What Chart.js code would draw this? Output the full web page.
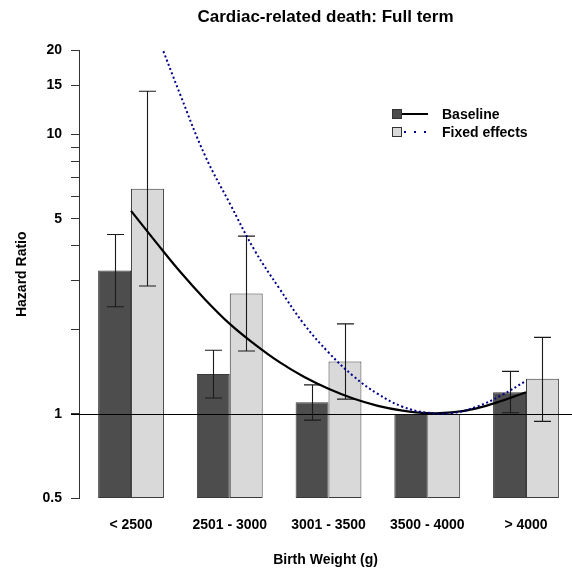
<!DOCTYPE html>
<html>
<head>
<meta charset="utf-8">
<title>Cardiac-related death: Full term</title>
<script src="https://cdn.jsdelivr.net/npm/chart.js@4.4.1/dist/chart.umd.min.js"></script>
<style>
  html, body { margin: 0; padding: 0; background: #fff; overflow: hidden; }
</style>
</head>
<body>
<canvas id="myChart" width="572" height="581"></canvas>
<script>
// birth weight groups and hazard ratios
const categories = ["< 2500", "2501 - 3000", "3001 - 3500", "3500 - 4000", "> 4000"];

const baseline = [3.26, 1.39, 1.10, 1.0, 1.196];
const baselineLow = [2.42, 1.14, 0.95, null, 1.01];
const baselineHigh = [4.39, 1.69, 1.27, null, 1.42];

const fixedEffects = [6.40, 2.70, 1.54, 1.0, 1.335];
const fixedLow = [2.87, 1.68, 1.13, null, 0.94];
const fixedHigh = [14.3, 4.33, 2.10, null, 1.88];

// spline fits, positions along the category axis
const curvePos = [0, 0.25, 0.5, 0.75, 1, 1.25, 1.5, 1.75, 2, 2.25, 2.5, 2.75, 3, 3.25, 3.5, 3.75, 4];
const baselineCurve = [5.33, 4.13, 3.22, 2.57, 2.10, 1.778, 1.535, 1.358, 1.230, 1.135, 1.069, 1.028, 1.007, 1.012, 1.047, 1.112, 1.196];
const fixedCurve = [40.5, 23.5, 13.85, 8.4, 5.67, 3.86, 2.82, 2.10, 1.66, 1.367, 1.179, 1.061, 1.01, 1.007, 1.061, 1.165, 1.313];

const yTicks = [0.5, 1, 2, 3, 4, 5, 6, 7, 8, 9, 10, 15, 20];
const yLabels = [0.5, 1, 5, 10, 15, 20];

const FONT = '"Liberation Sans", Arial, Helvetica, sans-serif';
const DARK = "#4d4d4d";
const LIGHT = "#d9d9d9";
const NAVY = "#00008b";

Chart.defaults.font.family = FONT;
Chart.defaults.font.size = 14;
Chart.defaults.font.weight = "bold";
Chart.defaults.color = "#000";

function toPoints(xs, ys) {
  return xs.map((x, i) => ({ x: x, y: ys[i] }));
}

// error bars go right after their bars, the y = 1 line after the last bar set
const errorBars = {
  id: "errorBars",
  afterDatasetDraw(chart, args) {
    const ds = chart.data.datasets[args.index];
    if (!ds.errLow) return;
    const y = chart.scales.y;
    const ctx = chart.ctx;
    ctx.save();
    ctx.strokeStyle = "#1a1a1a";
    ctx.lineWidth = 1.1;
    args.meta.data.forEach((bar, i) => {
      if (ds.errLow[i] == null) return;
      const top = y.getPixelForValue(ds.errHigh[i]);
      const bottom = y.getPixelForValue(ds.errLow[i]);
      const cx = Math.round(bar.x) + 0.5;
      ctx.beginPath();
      ctx.moveTo(cx, top);
      ctx.lineTo(cx, bottom);
      ctx.moveTo(cx - 8.5, top);
      ctx.lineTo(cx + 8.5, top);
      ctx.moveTo(cx - 8.5, bottom);
      ctx.lineTo(cx + 8.5, bottom);
      ctx.stroke();
    });
    if (ds.refLine) {
      const area = chart.chartArea;
      const y1 = Math.round(y.getPixelForValue(1)) + 0.5;
      ctx.strokeStyle = "#000";
      ctx.lineWidth = 1;
      ctx.beginPath();
      ctx.moveTo(area.left - 8, y1);
      ctx.lineTo(area.right, y1);
      ctx.stroke();
    }
    ctx.restore();
  },
};

// main title over the plot region plus the legend box
const plotText = {
  id: "plotText",
  afterDraw(chart) {
    const ctx = chart.ctx;
    const area = chart.chartArea;
    ctx.save();
    ctx.fillStyle = "#000";
    ctx.textBaseline = "middle";
    ctx.textAlign = "center";
    ctx.font = "bold 17px " + FONT;
    ctx.fillText("Cardiac-related death: Full term", (area.left + area.right) / 2, 17);

    const items = [
      { label: "Baseline", fill: DARK, line: "#000", dash: [], y: 114 },
      { label: "Fixed effects", fill: LIGHT, line: NAVY, dash: [2, 8], y: 132 },
    ];
    ctx.textAlign = "left";
    ctx.font = "bold 14px " + FONT;
    items.forEach((it) => {
      ctx.fillStyle = it.fill;
      ctx.fillRect(392, it.y - 4.5, 10, 9);
      ctx.strokeStyle = "#333";
      ctx.lineWidth = 1;
      ctx.strokeRect(392.5, it.y - 4.5, 9, 9);
      ctx.strokeStyle = it.line;
      ctx.lineWidth = 2;
      ctx.setLineDash(it.dash);
      ctx.beginPath();
      ctx.moveTo(it.dash.length ? 404 : 402, it.y);
      ctx.lineTo(428, it.y);
      ctx.stroke();
      ctx.setLineDash([]);
      ctx.fillStyle = "#000";
      ctx.fillText(it.label, 442, it.y + 1);
    });
    ctx.restore();
  },
};

function createChart() {
  const ctx = document.getElementById("myChart");

  const data = {
    datasets: [
      {
        type: "bar",
        label: "Baseline",
        data: toPoints(categories.map((c, i) => i), baseline),
        backgroundColor: DARK,
        borderColor: "#3a3a3a",
        borderWidth: 1,
        borderSkipped: false,
        categoryPercentage: 2 / 3,
        barPercentage: 1,
        errLow: baselineLow,
        errHigh: baselineHigh,
        refLine: true,
        order: 3,
      },
      {
        type: "bar",
        label: "Fixed effects",
        data: toPoints(categories.map((c, i) => i), fixedEffects),
        backgroundColor: LIGHT,
        borderColor: "#3a3a3a",
        borderWidth: 1,
        borderSkipped: false,
        categoryPercentage: 2 / 3,
        barPercentage: 1,
        errLow: fixedLow,
        errHigh: fixedHigh,
        order: 4,
      },
      {
        type: "line",
        label: "Baseline fit",
        data: toPoints(curvePos, baselineCurve),
        borderColor: "#000",
        borderWidth: 2.2,
        pointRadius: 0,
        fill: false,
        tension: 0.4,
        clip: 0,
        order: 2,
      },
      {
        type: "line",
        label: "Fixed effects fit",
        data: toPoints(curvePos, fixedCurve),
        borderColor: NAVY,
        borderWidth: 2,
        borderDash: [2, 2.6],
        pointRadius: 0,
        fill: false,
        tension: 0.4,
        clip: 0,
        order: 1,
      },
    ],
  };

  new Chart(ctx, {
    type: "bar",
    data,
    plugins: [errorBars, plotText],
    options: {
      responsive: false,
      animation: false,
      layout: { padding: { top: 50.5, left: 0, right: 0, bottom: 0 } },
      plugins: {
        legend: { display: false },
        title: { display: false },
        tooltip: { enabled: false },
      },
      scales: {
        x: {
          type: "linear",
          bounds: "data",
          offset: false,
          min: -0.527,
          max: 4.466,
          afterBuildTicks: (scale) => {
            scale.ticks = categories.map((c, i) => ({ value: i }));
          },
          afterFit: (scale) => {
            scale.height = 83;
          },
          border: { display: false },
          grid: { display: false, drawTicks: false, offset: false },
          ticks: {
            autoSkip: false,
            maxRotation: 0,
            padding: 18.5,
            callback: (v) => categories[v],
          },
          title: {
            display: true,
            text: "Birth Weight (g)",
            padding: { top: 0, bottom: 12.5 },
          },
        },
        y: {
          type: "logarithmic",
          min: 0.5,
          max: 20,
          afterBuildTicks: (scale) => {
            scale.ticks = yTicks.map((v) => ({ value: v }));
          },
          afterFit: (scale) => {
            scale.width = 79;
          },
          border: { display: true, color: "#333", width: 1 },
          grid: {
            drawOnChartArea: false,
            drawTicks: true,
            tickLength: 8,
            color: "#333",
          },
          ticks: {
            autoSkip: false,
            padding: 9,
            callback: (v) => (yLabels.includes(v) ? String(v) : ""),
          },
          title: {
            display: true,
            text: "Hazard Ratio",
            padding: { top: 14, bottom: 0 },
          },
        },
      },
    },
  });
}

window.addEventListener("load", function () {
  createChart();
});
</script>
</body>
</html>
